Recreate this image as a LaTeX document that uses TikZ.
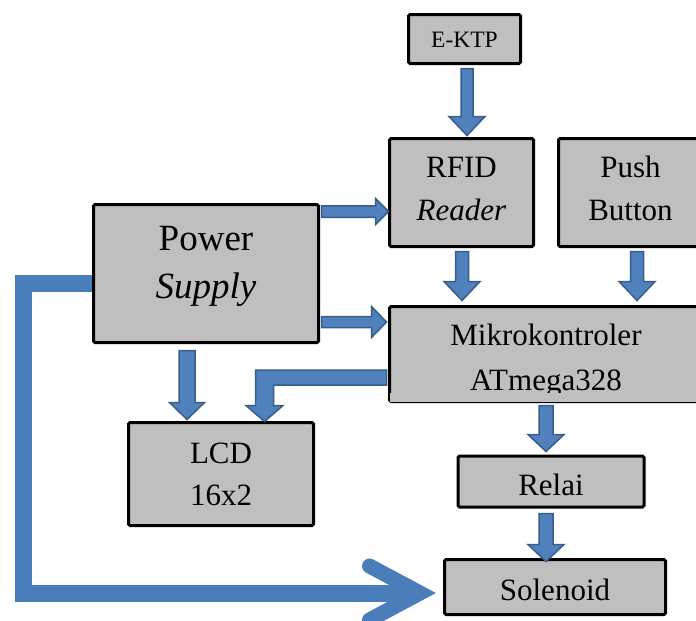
\documentclass[tikz,border=0pt]{standalone}
\usepackage{fontspec}
\setmainfont{Liberation Serif}
\usetikzlibrary{calc}

\definecolor{boxgray}{HTML}{BFBFBF}
\definecolor{arrowfill}{HTML}{4F81BD}
\definecolor{arrowline}{HTML}{385D8A}
\definecolor{linkblue}{HTML}{4A7EBB}

% two centred lines, baseline on the last one
\newcommand\stackedlines[2]{\begin{tabular}[b]{@{}c@{}}#1\\#2\end{tabular}}

% straight block arrow: from, to, shaft width, head width, head length
\newcommand\blockarrow[5]{%
  \coordinate (ba-s) at (#1);
  \coordinate (ba-t) at (#2);
  \coordinate (ba-n) at ($(ba-t)!#5!(ba-s)$);
  \filldraw[blockarrowbody]
    ($(ba-s)!#3/2!90:(ba-t)$) -- ($(ba-n)!#3/2!90:(ba-t)$) -- ($(ba-n)!#4/2!90:(ba-t)$)
    -- (ba-t)
    -- ($(ba-n)!#4/2!-90:(ba-t)$) -- ($(ba-n)!#3/2!-90:(ba-t)$) -- ($(ba-s)!#3/2!-90:(ba-t)$)
    -- cycle;
}

\tikzset{
  box/.style={draw=black, line width=3pt, fill=boxgray, inner sep=0pt,
    rounded corners=1.5pt, text depth=0pt},
  blockarrowbody/.style={fill=arrowfill, draw=arrowline, line width=1.5pt, line join=miter},
  powerline/.style={draw=linkblue, line width=17pt, line join=miter, line cap=butt},
}

\begin{document}
\begin{tikzpicture}[x=1pt, y=-1pt]
\useasboundingbox (0,0) rectangle (696,621);
\clip (0,0) rectangle (696,621);

% blocks
\node[box, minimum width=112pt, minimum height=49pt, text height=16pt,
      font=\fontsize{23.5}{28}\selectfont] (ektp) at (464.5,39) {E-KTP};
\node[box, minimum width=144pt, minimum height=108pt, text height=55pt,
      font=\fontsize{31}{43}\selectfont] (rfid) at (461.5,192.5)
      {\stackedlines{RFID}{\textit{Reader}}};
\node[box, minimum width=144pt, minimum height=108pt, text height=55pt,
      font=\fontsize{31}{43}\selectfont] (push) at (630.5,192.5)
      {\stackedlines{Push}{Button}};
\node[box, minimum width=225pt, minimum height=138pt, text height=49pt,
      font=\fontsize{37}{48}\selectfont] (power) at (206,273.5)
      {\stackedlines{Power}{\textit{Supply}}};
\node[box, minimum width=313pt, minimum height=95pt, text height=72pt,
      font=\fontsize{31}{45}\selectfont] (mikro) at (546,354)
      {\stackedlines{Mikrokontroler}{ATmega328}};
\node[box, minimum width=185pt, minimum height=103pt, text height=62pt,
      font=\fontsize{31}{42}\selectfont] (lcd) at (221,474)
      {\stackedlines{LCD}{16x2}};
\node[box, minimum width=186pt, minimum height=51pt, text height=27pt,
      font=\fontsize{31}{40}\selectfont] (relai) at (551,481.5) {Relai};
\node[box, minimum width=221pt, minimum height=55pt, text height=26pt,
      font=\fontsize{31}{40}\selectfont] (solenoid) at (555,587) {Solenoid};

% the text frame of the controller block cuts off the descenders of its second line
\fill[boxgray] ($(mikro.south west)+(1.5,-10.5)$) rectangle ($(mikro.south east)+(-1.5,-1.5)$);

% block arrows
\blockarrow{$(ektp.south)+(2.5,3.5)$}{$(rfid.north)+(5.5,-1.5)$}{12pt}{36pt}{19pt}
\blockarrow{$(rfid.south)+(0.5,3.5)$}{$(rfid.south |- mikro.north)+(0.5,-4.5)$}{13pt}{36pt}{19pt}
\blockarrow{$(push.south)+(6.5,3.5)$}{$(push.south |- mikro.north)+(6.5,-4.5)$}{13pt}{36pt}{19pt}
\blockarrow{$(power.east)+(1.5,-62)$}{$(rfid.west)+(0.5,19)$}{11.5pt}{26pt}{13pt}
\blockarrow{$(power.east)+(1.5,48.5)$}{$(mikro.west)+(-1.5,-32)$}{11pt}{31pt}{15pt}
\blockarrow{$(power.south)+(-19,6.5)$}{$(lcd.north)+(-34,-1.5)$}{16pt}{35pt}{17pt}
\blockarrow{$(mikro.south)+(0,2.5)$}{$(relai.north)+(-5,-3)$}{14pt}{36pt}{17pt}
\blockarrow{$(relai.south)+(-5,5)$}{$(solenoid.north)+(-9,3.5)$}{14pt}{36pt}{17pt}

% bent block arrow from the controller down to the display
\coordinate (es) at ($(mikro.west)+(-1.5,23.5)$);
\coordinate (et) at ($(lcd.north)+(43.5,0.5)$);
\coordinate (ec) at (et |- es);
\filldraw[blockarrowbody]
  ($(es)+(0,-7.5)$) -- ($(ec)+(-9,-7.5)$) -- ($(et)+(-9,-16)$) -- ($(et)+(-18.5,-16)$)
  -- (et) -- ($(et)+(18.5,-16)$) -- ($(et)+(9,-16)$) -- ($(ec)+(9,7.5)$)
  -- ($(es)+(0,7.5)$) -- cycle;

% supply line round the left side to the solenoid
\coordinate (l0) at ($(power.west)+(0,10)$);
\coordinate (l1) at (23.5,283.5);
\coordinate (ltip) at ($(solenoid.west)+(-7.5,6)$);
\draw[powerline] (l0) -- (l1) |- ($(ltip)+(-18,0)$);
\draw[powerline, line width=15pt, line cap=round]
  ($(ltip)+(-66,-27)$) -- ($(ltip)+(-15.5,0)$) -- ($(ltip)+(-66,27)$);
\end{tikzpicture}
\end{document}
